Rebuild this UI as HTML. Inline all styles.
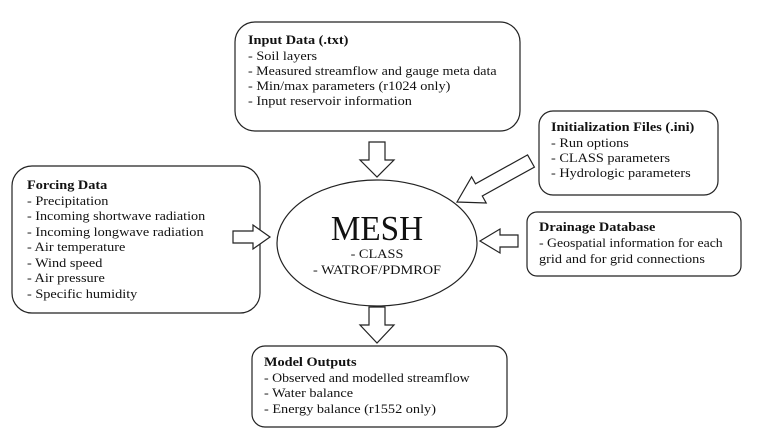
<!DOCTYPE html>
<html><head><meta charset="utf-8"><style>
html,body{margin:0;padding:0;background:#fff}
svg{display:block}
text{font-family:"Liberation Serif","DejaVu Serif",serif;font-size:13px;fill:#111}
.b{font-weight:bold}
</style></head><body>
<svg width="760" height="440" viewBox="0 0 760 440" xmlns="http://www.w3.org/2000/svg">
<g fill="#fff" stroke="#222" stroke-width="1.2">
<rect x="235" y="22" width="285" height="109" rx="20"/>
<rect x="539" y="111" width="179" height="84" rx="14"/>
<rect x="12" y="166" width="248" height="147" rx="20"/>
<rect x="527" y="212" width="214" height="64" rx="10"/>
<rect x="252" y="346" width="255" height="81" rx="13"/>
<ellipse cx="377" cy="243" rx="100" ry="63"/>
<polygon points="369,142 385,142 385,160 394,160 377,177 360,160 369,160"/>
<polygon points="369,307 385,307 385,325 394,325 377,343 360,325 369,325"/>
<polygon points="233,231 253,231 253,225 270,237 253,249 253,243 233,243"/>
<polygon points="518,235 500,235 500,229 480,241 500,253 500,247 518,247"/>
<polygon points="527.6,154.9 475.5,183.8 471.6,176.8 457,202 486.2,203 482.3,196 534.4,167.1"/>
</g>
<g transform="translate(248,0) scale(1.1,1)">
<text x="0" y="44" class="b">Input Data (.txt)</text>
<text x="0" y="60">- Soil layers</text>
<text x="0" y="75" textLength="226" lengthAdjust="spacingAndGlyphs">- Measured streamflow and gauge meta data</text>
<text x="0" y="90">- Min/max parameters (r1024 only)</text>
<text x="0" y="105">- Input reservoir information</text>
</g>
<g transform="translate(551,0) scale(1.1,1)">
<text x="0" y="131" class="b">Initialization Files (.ini)</text>
<text x="0" y="147">- Run options</text>
<text x="0" y="162">- CLASS parameters</text>
<text x="0" y="177">- Hydrologic parameters</text>
</g>
<g transform="translate(27,0) scale(1.1,1)">
<text x="0" y="189" class="b">Forcing Data</text>
<text x="0" y="205">- Precipitation</text>
<text x="0" y="220" textLength="162" lengthAdjust="spacingAndGlyphs">- Incoming shortwave radiation</text>
<text x="0" y="236">- Incoming longwave radiation</text>
<text x="0" y="251">- Air temperature</text>
<text x="0" y="267">- Wind speed</text>
<text x="0" y="282">- Air pressure</text>
<text x="0" y="298">- Specific humidity</text>
</g>
<g transform="translate(539,0) scale(1.1,1)">
<text x="0" y="231" class="b">Drainage Database</text>
<text x="0" y="247" textLength="167" lengthAdjust="spacingAndGlyphs">- Geospatial information for each</text>
<text x="0" y="263">grid and for grid connections</text>
</g>
<g transform="translate(264,0) scale(1.1,1)">
<text x="0" y="366" class="b">Model Outputs</text>
<text x="0" y="382" textLength="187" lengthAdjust="spacingAndGlyphs">- Observed and modelled streamflow</text>
<text x="0" y="397">- Water balance</text>
<text x="0" y="413">- Energy balance (r1552 only)</text>
</g>
<g transform="translate(377,0) scale(0.95,1)">
<text x="0" y="240" text-anchor="middle" style="font-size:35px">MESH</text>
</g>
<g transform="translate(377,0) scale(1.1,1)">
<text x="0" y="258" text-anchor="middle">- CLASS</text>
<text x="0" y="274" text-anchor="middle">- WATROF/PDMROF</text>
</g>
</svg>
</body></html>
